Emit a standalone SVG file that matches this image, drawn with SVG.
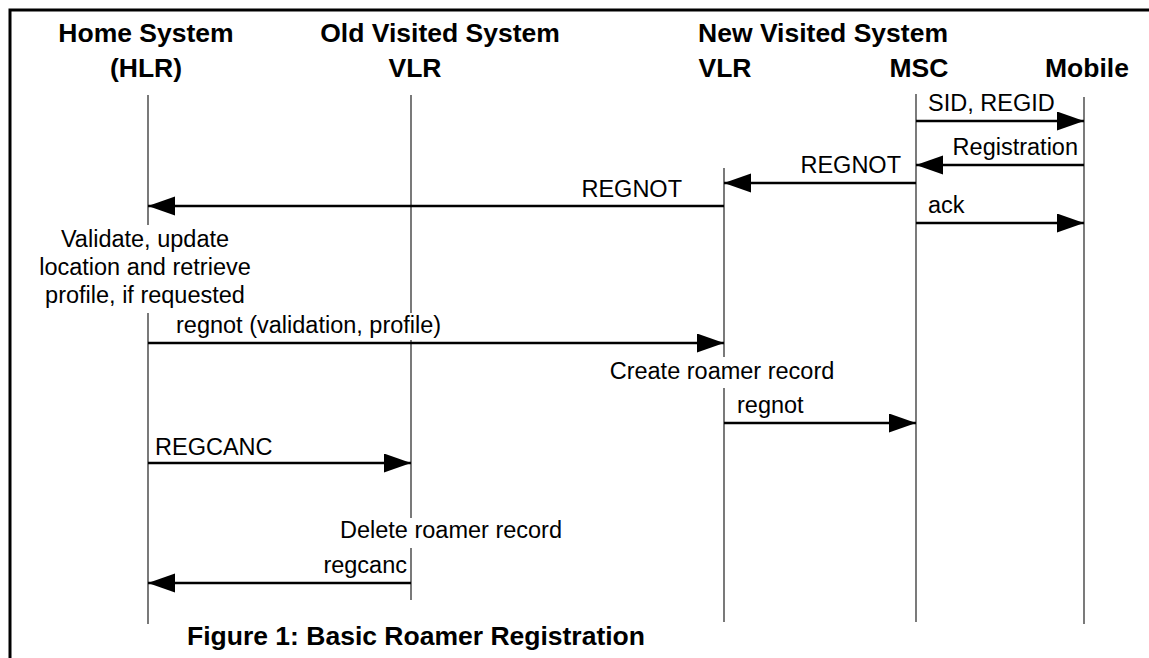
<svg xmlns="http://www.w3.org/2000/svg" width="1149" height="658" viewBox="0 0 1149 658">
<style>
.hdr{font-family:"Liberation Sans",Arial,sans-serif;font-weight:bold;font-size:26.5px;fill:#000}
.lbl{font-family:"Liberation Sans",Arial,sans-serif;font-size:23.5px;fill:#000}
.life{stroke:#222;stroke-width:1.2;fill:none}
.msg{stroke:#000;stroke-width:2.6;fill:none;marker-end:url(#ah)}
</style>
<defs>
<marker id="ah" markerUnits="userSpaceOnUse" markerWidth="28" markerHeight="20" refX="27" refY="9.5" orient="auto">
<path d="M0,0 L27,9.5 L0,19 z" fill="#000"/>
</marker>
</defs>
<rect width="1149" height="658" fill="#fff"/>
<g id="frame">
<path d="M10,658 L10,10 L1149,10" stroke="#000" stroke-width="3" fill="none"/>
</g>
<g id="hlr">
<text class="hdr" x="146" y="42" text-anchor="middle">Home System</text>
<text class="hdr" x="146" y="77" text-anchor="middle">(HLR)</text>
<path class="life" d="M148,95 V225 M148,313 V624"/>
<text class="lbl" x="145" y="247" text-anchor="middle">Validate, update</text>
<text class="lbl" x="145" y="275" text-anchor="middle">location and retrieve</text>
<text class="lbl" x="145" y="303" text-anchor="middle">profile, if requested</text>
</g>
<g id="old-vlr">
<text class="hdr" x="440" y="42" text-anchor="middle">Old Visited System</text>
<text class="hdr" x="415" y="77" text-anchor="middle">VLR</text>
<path class="life" d="M411,95 V313 M411,340 V518 M411,548 V600"/>
<text class="lbl" x="451" y="538" text-anchor="middle">Delete roamer record</text>
</g>
<g id="new-vlr">
<text class="hdr" x="823" y="42" text-anchor="middle">New Visited System</text>
<text class="hdr" x="725" y="77" text-anchor="middle">VLR</text>
<path class="life" d="M724,168 V357 M724,388 V622"/>
<text class="lbl" x="722" y="379" text-anchor="middle">Create roamer record</text>
</g>
<g id="msc">
<text class="hdr" x="919" y="77" text-anchor="middle">MSC</text>
<path class="life" d="M916,94 V622"/>
</g>
<g id="mobile">
<text class="hdr" x="1087" y="77" text-anchor="middle">Mobile</text>
<path class="life" d="M1084,97 V624"/>
</g>
<g id="connectors">
<line class="msg" x1="916" y1="121" x2="1084" y2="121"/>
<text class="lbl" x="928" y="111">SID, REGID</text>
<line class="msg" x1="1084" y1="165" x2="916" y2="165"/>
<text class="lbl" x="1078" y="155" text-anchor="end">Registration</text>
<line class="msg" x1="916" y1="183" x2="724" y2="183"/>
<text class="lbl" x="901" y="173" text-anchor="end">REGNOT</text>
<line class="msg" x1="724" y1="206" x2="148" y2="206"/>
<text class="lbl" x="682" y="197" text-anchor="end">REGNOT</text>
<line class="msg" x1="916" y1="223" x2="1084" y2="223"/>
<text class="lbl" x="928" y="213">ack</text>
<line class="msg" x1="148" y1="343" x2="724" y2="343"/>
<text class="lbl" x="176" y="333">regnot (validation, profile)</text>
<line class="msg" x1="724" y1="423" x2="916" y2="423"/>
<text class="lbl" x="737" y="413">regnot</text>
<line class="msg" x1="148" y1="463" x2="411" y2="463"/>
<text class="lbl" x="155" y="455">REGCANC</text>
<line class="msg" x1="411" y1="583" x2="148" y2="583"/>
<text class="lbl" x="407" y="573" text-anchor="end">regcanc</text>
</g>
<g id="caption">
<text class="hdr" x="187" y="645">Figure 1: Basic Roamer Registration</text>
</g>
</svg>
